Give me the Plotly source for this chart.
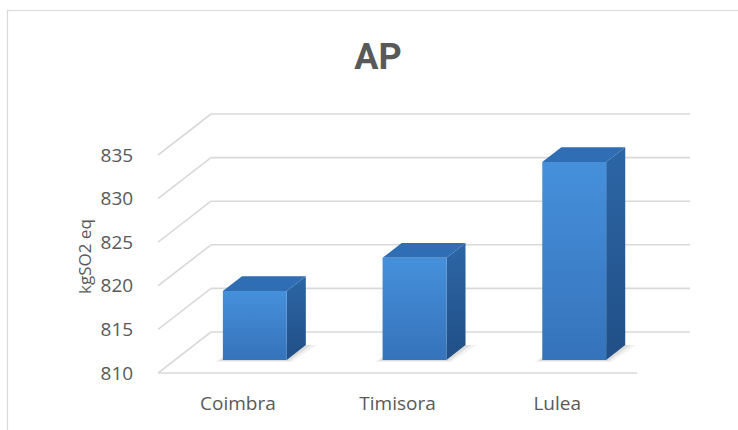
import plotly.graph_objects as go

# ---- data ----
categories = ["Coimbra", "Timisora", "Lulea"]
ap_values = [817.9, 821.7, 832.7]          # kgSO2 eq
y_ticks = [810, 815, 820, 825, 830, 835]
y_label = "kgSO2 eq"
title_text = "AP"

# ---- page / plot-area geometry (pixels) ----
W, H = 738, 430
L, R, T, B = 158, 700, 100, 390            # plot area
FLOOR_PX = 373                              # pixel row of the front floor edge
PX_PER_CAT = 159.7                          # horizontal pixels per category band
PX_PER_UNIT = 8.72                          # vertical pixels per kgSO2 eq
DEPTH_PX = (53, 41)                         # oblique depth offset (right, up)

y_base = y_ticks[0]
x_range = [0, (R - L) / PX_PER_CAT]
y_range = [y_base - (B - FLOOR_PX) / PX_PER_UNIT, y_base + (FLOOR_PX - T) / PX_PER_UNIT]
DX = DEPTH_PX[0] / PX_PER_CAT               # depth offset in data units
DY = DEPTH_PX[1] / PX_PER_UNIT
n = len(categories)

# bar geometry inside each band
bar_w = 0.40
d0, d1 = 0.32, 0.68                          # front/back depth fractions of the bars

GRID = "#d9d9d9"
TEXT = "#595959"
FONT = "Open Sans, Lato, sans-serif"

fig = go.Figure()


def poly(xs, ys, **kw):
    fig.add_trace(go.Scatter(x=xs + [xs[0]], y=ys + [ys[0]], mode="lines",
                             fill="toself", hoverinfo="skip", showlegend=False, **kw))


# back wall gridlines and side wall diagonals
for t in y_ticks:
    fig.add_trace(go.Scatter(x=[DX, n + DX], y=[t + DY, t + DY], mode="lines",
                             line=dict(color=GRID, width=1.6), hoverinfo="skip", showlegend=False))
    fig.add_trace(go.Scatter(x=[0, DX], y=[t, t + DY], mode="lines",
                             line=dict(color=GRID, width=1.6), hoverinfo="skip", showlegend=False))
# front floor edge
fig.add_trace(go.Scatter(x=[0, n], y=[y_base, y_base], mode="lines",
                         line=dict(color=GRID, width=1.6), hoverinfo="skip", showlegend=False))

# bars drawn as oblique boxes
for i, v in enumerate(ap_values):
    xl = i + 0.5 - bar_w / 2
    xr = i + 0.5 + bar_w / 2
    fx0, fy0 = d0 * DX, d0 * DY
    fx1, fy1 = d1 * DX, d1 * DY

    # soft floor shadow
    for grow, alpha in [(0.05, 0.06), (0.025, 0.10)]:
        gx, gy = grow, grow * DY / DX * 0.35
        poly([xl + fx0 - gx, xr + fx0 + gx * 0.6, xr + fx1 + gx * 1.4, xl + fx1 - gx * 0.2],
             [y_base + fy0 - gy, y_base + fy0 - gy, y_base + fy1, y_base + fy1],
             line=dict(width=0), fillcolor=f"rgba(40,40,40,{alpha})")

    # right side face
    poly([xr + fx0, xr + fx0, xr + fx1, xr + fx1],
         [y_base + fy0, v + fy0, v + fy1, y_base + fy1],
         line=dict(width=0),
         fillgradient=dict(type="vertical", colorscale=[[0, "#214f86"], [1, "#2c66a6"]]))
    # top face
    poly([xl + fx0, xr + fx0, xr + fx1, xl + fx1],
         [v + fy0, v + fy0, v + fy1, v + fy1],
         line=dict(width=0), fillcolor="#2f6db4")
    # front face
    poly([xl + fx0, xr + fx0, xr + fx0, xl + fx0],
         [y_base + fy0, y_base + fy0, v + fy0, v + fy0],
         line=dict(width=0),
         fillgradient=dict(type="vertical", colorscale=[[0, "#3573bb"], [1, "#4690db"]]))


# chart border (paper coordinates)
def px_to_paper_x(p):
    return (p - L) / (R - L)


def px_to_paper_y(p):
    return (B - p) / (B - T)


fig.add_shape(type="rect", xref="paper", yref="paper",
              x0=px_to_paper_x(7.5), x1=px_to_paper_x(W + 20),
              y0=px_to_paper_y(H + 20), y1=px_to_paper_y(10.5),
              line=dict(color="#d9d9d9", width=1.2), layer="below")

fig.add_annotation(text=y_label, textangle=-90, xref="paper", yref="paper",
                   x=px_to_paper_x(84), y=px_to_paper_y(257),
                   xanchor="center", yanchor="middle", showarrow=False,
                   font=dict(family=FONT, size=17, color=TEXT))

fig.update_layout(
    width=W, height=H,
    margin=dict(l=L, r=W - R, t=T, b=H - B),
    paper_bgcolor="white", plot_bgcolor="white",
    title=dict(text=f"<b>{title_text}</b>", xref="container", x=378 / W, xanchor="center",
               yref="container", y=1 - 56 / H, yanchor="middle",
               font=dict(family="Liberation Sans Narrow, Roboto, sans-serif", size=36, color=TEXT)),
    xaxis=dict(range=x_range, tickvals=[i + 0.5 for i in range(n)], ticktext=categories,
               showgrid=False, zeroline=False, showline=False,
               ticks="", tickfont=dict(family=FONT, size=19, color=TEXT), fixedrange=True),
    yaxis=dict(range=y_range, tickvals=y_ticks, ticktext=[str(t) for t in y_ticks],
               showgrid=False, zeroline=False, showline=False,
               ticks="outside", ticklen=20, tickcolor="rgba(0,0,0,0)",
               tickfont=dict(family=FONT, size=19, color=TEXT), fixedrange=True),
    showlegend=False,
)

fig.write_html("out.html")
